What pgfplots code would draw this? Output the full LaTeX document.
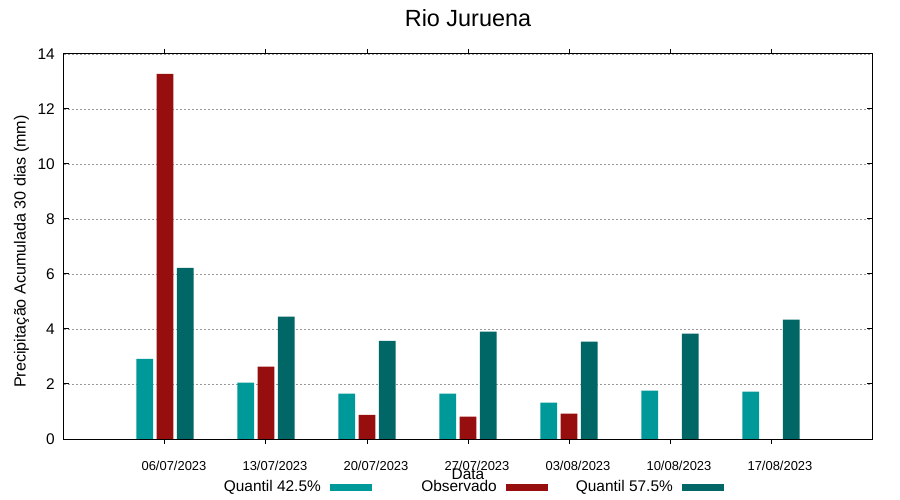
\documentclass[border=0pt]{standalone}
\usepackage{fontspec}
\setmainfont{Liberation Sans}
\usepackage{pgfplots}
\pgfplotsset{compat=1.18}
\definecolor{q42}{RGB}{0,153,153}
\definecolor{obs}{RGB}{150,14,14}
\definecolor{q57}{RGB}{0,102,102}
\begin{document}
\begin{tikzpicture}
\begin{axis}[
  name=main,
  scale only axis, width=808bp, height=385bp,
  xmin=-1, xmax=7, ymin=0, ymax=14,
  ytick={0,2,...,14},
  xtick={0,...,6},
  xticklabels={06/07/2023,13/07/2023,20/07/2023,27/07/2023,03/08/2023,10/08/2023,17/08/2023},
  /pgf/number format/assume math mode=true,
  xticklabel style={font=\fontsize{13}{15}\selectfont, anchor=base, yshift=-26bp, xshift=9bp},
  yticklabel style={font=\fontsize{15.5}{18}\selectfont, anchor=east, inner sep=0pt, xshift=-9bp},
  tick align=inside,
  major tick length=5bp,
  tick style={black, line width=1bp},
  axis line style={black, line width=1bp},
  ymajorgrids,
  grid style={dash pattern=on 2bp off 2bp, color=black!40, line width=0.9bp},
  ybar, bar width=0.165,
  title={Rio Juruena},
  title style={font=\fontsize{23.5}{27}\selectfont, at={(axis description cs:0.5,1)}, anchor=base, yshift=22bp},
  xlabel={Data},
  xlabel style={font=\fontsize{15.5}{18}\selectfont, at={(axis description cs:0.5,0)}, anchor=base, yshift=-40bp},
  ylabel={Precipitação Acumulada 30 dias (mm)},
  ylabel style={font=\fontsize{16.2}{19}\selectfont, at={(axis description cs:-0.0475,0.487)}, anchor=base, rotate=0},
  legend columns=3,
  legend plot pos=right,
  legend style={draw=none, fill=none, at={(axis description cs:0.506,-0.1247)}, anchor=center,
    font=\fontsize{15.5}{18}\selectfont,
    nodes={inner sep=0pt},
    /tikz/every odd column/.append style={column sep=9bp},
    /tikz/every even column/.append style={column sep=26bp}},
  legend image code/.code={\fill (0bp,-3.5bp) rectangle (42bp,3.5bp);},
]
\addplot[ybar, fill=q42, draw=none, bar shift=-0.2] coordinates {(0,2.91) (1,2.05) (2,1.65) (3,1.65) (4,1.32) (5,1.76) (6,1.72)};
\addlegendentry{\makebox[99bp][r]{Quantil 42.5\%}}
\addplot[ybar, fill=obs, draw=none, bar shift=0] coordinates {(0,13.28) (1,2.63) (2,0.88) (3,0.81) (4,0.92)};
\addlegendentry{\makebox[99bp][r]{Observado}}
\addplot[ybar, fill=q57, draw=none, bar shift=0.2] coordinates {(0,6.22) (1,4.45) (2,3.57) (3,3.90) (4,3.54) (5,3.83) (6,4.34)};
\addlegendentry{\makebox[99bp][r]{Quantil 57.5\%}}
\end{axis}
\pgfresetboundingbox
\path[use as bounding box] (main.south west) ++(-64bp,-61bp) rectangle ++(900bp,500bp);
\end{tikzpicture}
\end{document}
